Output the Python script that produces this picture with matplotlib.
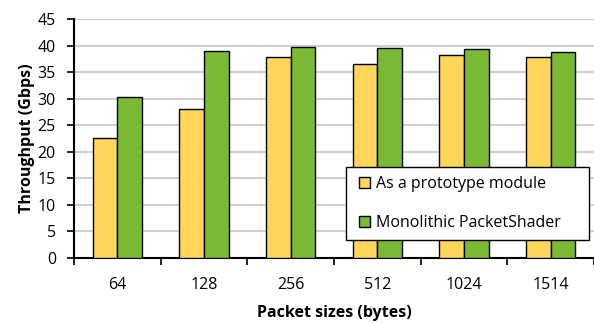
import numpy as np
import matplotlib.pyplot as plt
from matplotlib.patches import Rectangle

plt.rcParams['font.family'] = ['Open Sans', 'DejaVu Sans']

sizes = ['64', '128', '256', '512', '1024', '1514']
prototype = [22.6, 28.0, 37.8, 36.6, 38.3, 37.8]
monolithic = [30.35, 38.95, 39.7, 39.6, 39.35, 38.85]

fig = plt.figure(figsize=(5.94, 3.23), dpi=100)
ax = fig.add_axes([74/594, 65/323, 520/594, 239/323])

x = np.arange(len(sizes))
w = 0.286
ax.bar(x - w/2, prototype, w, color='#FFD65A', edgecolor='black', linewidth=1,
       label='As a prototype module', zorder=3)
ax.bar(x + w/2, monolithic, w, color='#7AB934', edgecolor='black', linewidth=1,
       label='Monolithic PacketShader', zorder=3)

ax.set_ylim(0, 45)
ax.set_yticks(np.arange(0, 46, 5))
ax.set_xlim(-0.5, 5.44)
ax.set_xticks(np.arange(-0.5, 6, 1))
ax.set_xticklabels([])
ax.set_xticks(x, minor=True)
ax.set_xticklabels(sizes, minor=True)
ax.tick_params(axis='x', which='major', length=5, width=1.2, direction='out')
ax.tick_params(axis='x', which='minor', length=0, pad=14, labelsize=11.5)
ax.tick_params(axis='y', length=5, width=1.2, labelsize=11.5, pad=8)

ax.grid(axis='y', color='#d0d0d0', linewidth=1.5, zorder=0)
for s in ['top', 'right']:
    ax.spines[s].set_visible(False)
ax.spines['left'].set_linewidth(1.5)
ax.spines['bottom'].set_linewidth(1.5)

ax.set_ylabel('Throughput (Gbps)', fontweight='bold', fontsize=11.5, labelpad=2)
ax.set_xlabel('Packet sizes (bytes)', fontweight='bold', fontsize=11.5, labelpad=8)

# legend box (wider than the entries, like the original)
box = Rectangle((0.523, 0.075), 0.467, 0.305, transform=ax.transAxes,
                facecolor='white', edgecolor='black', linewidth=1.0,
                zorder=4, clip_on=False)
ax.add_patch(box)
leg = ax.legend(loc='center left', bbox_to_anchor=(0.523, 0.075 + 0.305/2),
                fontsize=11.5, frameon=False, borderaxespad=0,
                labelspacing=1.45, handlelength=0.7, handleheight=0.7,
                handletextpad=0.35, borderpad=0.8)
leg.set_zorder(5)

plt.savefig('out.png')
